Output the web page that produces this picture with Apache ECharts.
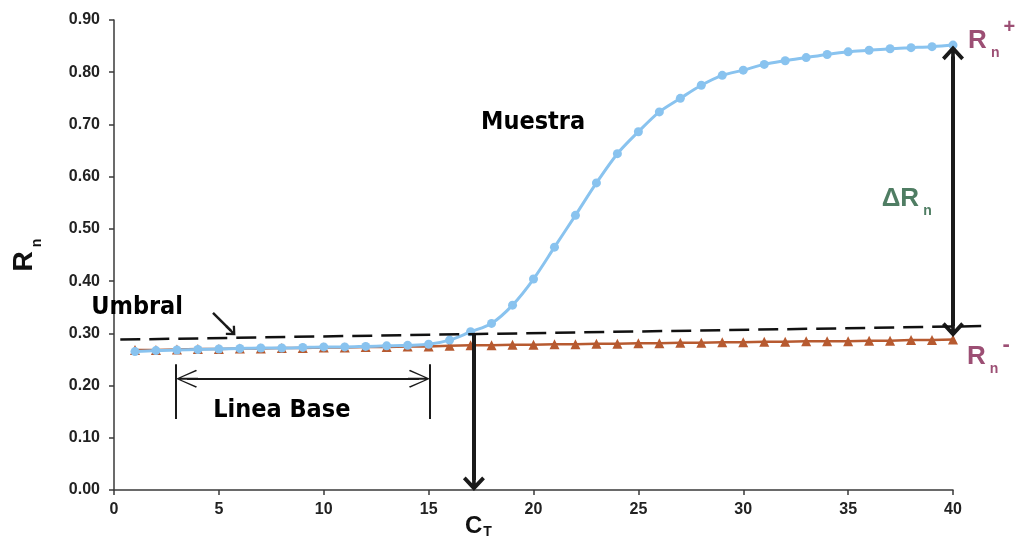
<!DOCTYPE html>
<html>
<head>
<meta charset="utf-8">
<script src="https://cdn.jsdelivr.net/npm/echarts@6/dist/echarts.min.js"></script>
<style>
  html, body { margin: 0; padding: 0; background: #fff; }
  #main { width: 1016px; height: 549px; }
</style>
</head>
<body>
<div id="main"></div>
<script>
// ciclos (eje x)
var cycles = [1, 2, 3, 4, 5, 6, 7, 8, 9, 10, 11, 12, 13, 14, 15, 16, 17, 18, 19, 20,
              21, 22, 23, 24, 25, 26, 27, 28, 29, 30, 31, 32, 33, 34, 35, 36, 37, 38, 39, 40];
// Rn muestra (azul)
var muestra = [0.265, 0.267, 0.268, 0.269, 0.270, 0.271, 0.272, 0.272, 0.273, 0.274,
               0.274, 0.275, 0.276, 0.277, 0.279, 0.287, 0.303, 0.319, 0.354, 0.404,
               0.465, 0.526, 0.588, 0.644, 0.686, 0.724, 0.750, 0.775, 0.794, 0.804,
               0.815, 0.822, 0.828, 0.834, 0.839, 0.842, 0.845, 0.847, 0.849, 0.852];
// Rn control (naranja)
var control = [0.268, 0.268, 0.269, 0.270, 0.270, 0.271, 0.271, 0.272, 0.272, 0.273,
               0.273, 0.274, 0.274, 0.275, 0.275, 0.276, 0.277, 0.277, 0.278, 0.278,
               0.279, 0.279, 0.280, 0.280, 0.281, 0.281, 0.282, 0.282, 0.283, 0.283,
               0.284, 0.284, 0.285, 0.285, 0.285, 0.286, 0.286, 0.287, 0.287, 0.288];
// umbral (linea discontinua), sale del rango del eje x por la derecha
var umbral = [[0.3, 0.288], [41.6, 0.314]];
// ejes
var xTicks = { min: 0, max: 40, step: 5 };
var yTicks = { min: 0, max: 0.9, step: 0.1 };

// flechas (coordenadas en unidades de datos)
var ctArrow = [[17.16, 0.299], [17.16, 0.019]];
var deltaArrow = [[40, 0.830], [40, 0.314]];
var baseArrow = [[3.48, 0.213], [14.54, 0.213]];
var baseBarL = [[2.96, 0.241], [2.96, 0.136]];
var baseBarR = [[15.06, 0.241], [15.06, 0.136]];
var umbralArrow = [[4.72, 0.339], [5.57, 0.305]];

// textos: posicion en unidades de datos
var txtMuestra = [19.98, 0.703];
var txtUmbral = [1.1, 0.349];
var txtBase = [8.0, 0.153];
var txtRnPlus = [40.72, 0.904];
var txtRnMinus = [40.67, 0.299];
var txtDelta = [36.6, 0.601];
var txtCt = [16.73, -0.047];

var cond = "'DejaVu Sans Condensed', 'Liberation Sans Narrow', sans-serif";
var sans = "'Liberation Sans', Arial, sans-serif";
var mauve = '#9c4f74';
var green = '#4f7d63';

var thickHead = 'path://M12,0 L24,13 L21,16 L14,8.5 L14,24 L10,24 L10,8.5 L3,16 L0,13 Z';
var thinHead = 'path://M10,0 L20,20 L18.5,21 L11,5 L11,22 L9,22 L9,5 L1.5,21 L0,20 Z';

function seg(p, w, endSym, endSize, startSym, startSize) {
    return [
        { coord: p[0], symbol: startSym || 'none', symbolSize: startSize || 0,
          lineStyle: { color: '#1a1a1a', width: w, type: 'solid' } },
        { coord: p[1], symbol: endSym || 'none', symbolSize: endSize || 0 }
    ];
}

function rnRich(color, supSize) {
    return {
        r: { fontFamily: sans, fontWeight: 'bold', fontSize: 26, lineHeight: 26, fill: color, padding: [10, 4, 0, 0], verticalAlign: 'top' },
        n: { fontFamily: sans, fontWeight: 'bold', fontSize: 14, lineHeight: 14, fill: color, padding: [28, 4, 0, 0], verticalAlign: 'top' },
        p: { fontFamily: sans, fontWeight: 'bold', fontSize: supSize, lineHeight: 18, fill: color, padding: [0, 0, 0, 0], verticalAlign: 'top' }
    };
}

var chart = echarts.init(document.getElementById('main'));

var option = {
    animation: false,
    backgroundColor: '#fff',
    grid: { left: 114, right: 63, top: 20, bottom: 59 },
    xAxis: {
        type: 'value',
        min: xTicks.min,
        max: xTicks.max,
        interval: xTicks.step,
        splitLine: { show: false },
        axisLine: { lineStyle: { color: '#3a3a3a', width: 1.5 } },
        axisTick: { show: true, length: 5, lineStyle: { color: '#3a3a3a', width: 1.5 } },
        axisLabel: {
            margin: 12, color: '#222', fontFamily: sans, fontWeight: 'bold', fontSize: 16,
            showMinLabel: true, showMaxLabel: true, hideOverlap: false
        }
    },
    yAxis: {
        type: 'value',
        min: yTicks.min,
        max: yTicks.max,
        interval: yTicks.step,
        splitLine: { show: false },
        axisLine: { show: true, lineStyle: { color: '#3a3a3a', width: 1.5 } },
        axisTick: { show: true, length: 5, lineStyle: { color: '#3a3a3a', width: 1.5 } },
        axisLabel: {
            margin: 14, color: '#222', fontFamily: sans, fontWeight: 'bold', fontSize: 16,
            formatter: function (v) { return v.toFixed(2); },
            showMinLabel: true, showMaxLabel: true, hideOverlap: false
        },
        name: '{r|R}{n|n}',
        nameLocation: 'middle',
        nameRotate: 90,
        nameGap: 76,
        nameTextStyle: {
            rich: {
                r: { fontFamily: sans, fontWeight: 'bold', fontSize: 28, lineHeight: 28, color: '#111', padding: [0, 4, 0, 0], verticalAlign: 'top' },
                n: { fontFamily: sans, fontWeight: 'bold', fontSize: 14, lineHeight: 14, color: '#111', padding: [20, 0, 0, 0], verticalAlign: 'top' }
            }
        }
    },
    series: [
        {
            name: 'Control',
            type: 'line',
            data: cycles.map(function (c, i) { return [c, control[i]]; }),
            symbol: 'triangle',
            symbolSize: 10,
            itemStyle: { color: '#b75a30' },
            lineStyle: { color: '#b75a30', width: 2.5 },
            z: 2
        },
        {
            name: 'Muestra',
            type: 'line',
            data: cycles.map(function (c, i) { return [c, muestra[i]]; }),
            symbol: 'circle',
            symbolSize: 9,
            smooth: 0.3,
            itemStyle: { color: '#89c3ef' },
            lineStyle: { color: '#89c3ef', width: 3 },
            z: 3,
            markLine: {
                silent: true,
                animation: false,
                label: { show: false },
                data: [
                    seg(ctArrow, 4, thickHead, [22, 22]),
                    seg(deltaArrow, 4, thickHead, [22, 22], thickHead, [22, 22]),
                    seg(baseArrow, 2, thinHead, [18, 22], thinHead, [18, 22]),
                    seg(baseBarL, 2),
                    seg(baseBarR, 2),
                    seg(umbralArrow, 2.5, thickHead, [13, 13])
                ]
            }
        }
    ]
};

chart.setOption(option);

// elementos que salen de la rejilla: se colocan con la escala del propio grafico
function px(c) { return chart.convertToPixel({ gridIndex: 0 }, c); }

function word(coord, s) {
    var p = px(coord);
    return {
        type: 'text', x: p[0], y: p[1], z: 10, silent: true,
        style: { text: s, fontFamily: cond, fontWeight: 'bold', fontSize: 25, fill: '#000', align: 'center', verticalAlign: 'middle' }
    };
}

function rich(coord, s, r) {
    var p = px(coord);
    return {
        type: 'text', x: p[0], y: p[1], z: 10, silent: true,
        style: { text: s, rich: r, align: 'left', verticalAlign: 'top' }
    };
}

var u0 = px(umbral[0]);
var u1 = px(umbral[1]);

chart.setOption({
    graphic: [
        {
            type: 'line', z: 5, silent: true,
            shape: { x1: u0[0], y1: u0[1], x2: u1[0], y2: u1[1] },
            style: { stroke: '#111', lineWidth: 2.5, lineDash: [20, 9] }
        },
        word(txtMuestra, 'Muestra'),
        word(txtUmbral, 'Umbral'),
        word(txtBase, 'Linea Base'),
        rich(txtRnPlus, '{r|R}{n|n}{p|+}', rnRich(mauve, 20)),
        rich(txtRnMinus, '{r|R}{n|n}{p|-}', rnRich(mauve, 22)),
        rich(txtDelta, '{r|\u0394R}{n|n}', rnRich(green, 18)),
        rich(txtCt, '{c|C}{t|T}', {
            c: { fontFamily: sans, fontWeight: 'bold', fontSize: 24, lineHeight: 24, fill: '#111', padding: [0, 1, 0, 0], verticalAlign: 'top' },
            t: { fontFamily: sans, fontWeight: 'bold', fontSize: 14, lineHeight: 14, fill: '#111', padding: [11, 0, 0, 0], verticalAlign: 'top' }
        })
    ]
});

window.addEventListener('resize', function () { chart.resize(); });
</script>
</body>
</html>
